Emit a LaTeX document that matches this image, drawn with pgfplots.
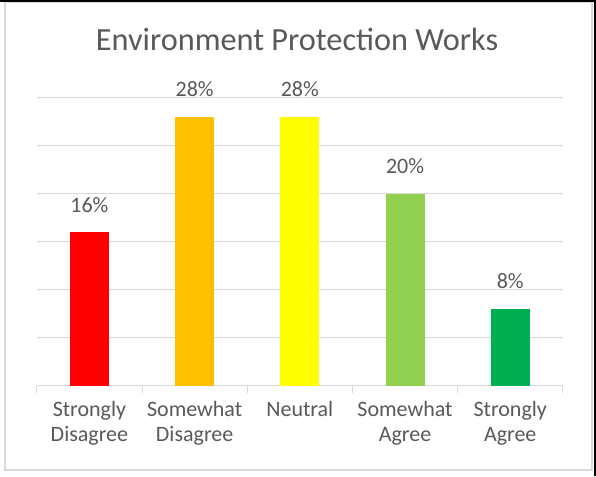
\documentclass[border=0pt]{standalone}
\usepackage{pgfplots}
\pgfplotsset{compat=1.18}
\usepackage{fontspec}
\setmainfont{Carlito}
\definecolor{txt}{HTML}{595959}
\definecolor{gridc}{HTML}{D9D9D9}
\definecolor{c1}{HTML}{FF0000}
\definecolor{c2}{HTML}{FFC000}
\definecolor{c3}{HTML}{FFFF00}
\definecolor{c4}{HTML}{92D050}
\definecolor{c5}{HTML}{00B050}
\begin{document}
\begin{tikzpicture}[x=1pt,y=1pt]
\useasboundingbox (0,0) rectangle (596,476);
\fill[white] (0,0) rectangle (596,476);
\draw[gridc, line width=2pt] (5,6) rectangle (592,474);
\fill[black] (0,474) rectangle (596,476);
\fill[black] (594,0) rectangle (596,476);
\node[txt, font=\fontsize{32.3}{36}\selectfont, anchor=base] at (297,425) {Environment Protection Works};
\begin{axis}[
  at={(35,94)}, anchor=south west,
  scale only axis, width=526pt, height=288pt,
  xmin=-0.5, xmax=4.5, ymin=0, ymax=30,
  ybar, bar width=39pt,
  axis y line*=left,
  y axis line style={draw=none},
  axis x line*=bottom,
  x axis line style={gridc, line width=1pt, -},
  ytick={5,10,...,30},
  yticklabels={},
  ytick style={draw=none},
  ymajorgrids, grid style={gridc, line width=1pt},
  xtick={0,...,4},
  xticklabels={{Strongly\\Disagree},{Somewhat\\Disagree},{Neutral},{Somewhat\\Agree},{Strongly\\Agree}},
  xticklabel style={txt, font=\fontsize{22}{25}\selectfont, align=center, anchor=north, yshift=-8pt},
  xtick style={draw=none},
  extra x ticks={-0.5,0.5,...,4.5},
  extra x tick labels={},
  extra x tick style={xtick style={gridc, line width=1pt, draw=gridc}, major tick length=7pt, tick align=outside},
  /pgf/number format/assume math mode=true,
  nodes near coords={\pgfmathprintnumber{\pgfplotspointmeta}\%},
  every node near coord/.append style={txt, font=\fontsize{22}{25}\selectfont, anchor=base, yshift=20pt},
  clip=false,
]
\addplot[fill=c1, draw=none, bar shift=0pt] coordinates {(0,16)};
\addplot[fill=c2, draw=none, bar shift=0pt] coordinates {(1,28)};
\addplot[fill=c3, draw=none, bar shift=0pt] coordinates {(2,28)};
\addplot[fill=c4, draw=none, bar shift=0pt] coordinates {(3,20)};
\addplot[fill=c5, draw=none, bar shift=0pt] coordinates {(4,8)};
\end{axis}
\end{tikzpicture}
\end{document}
